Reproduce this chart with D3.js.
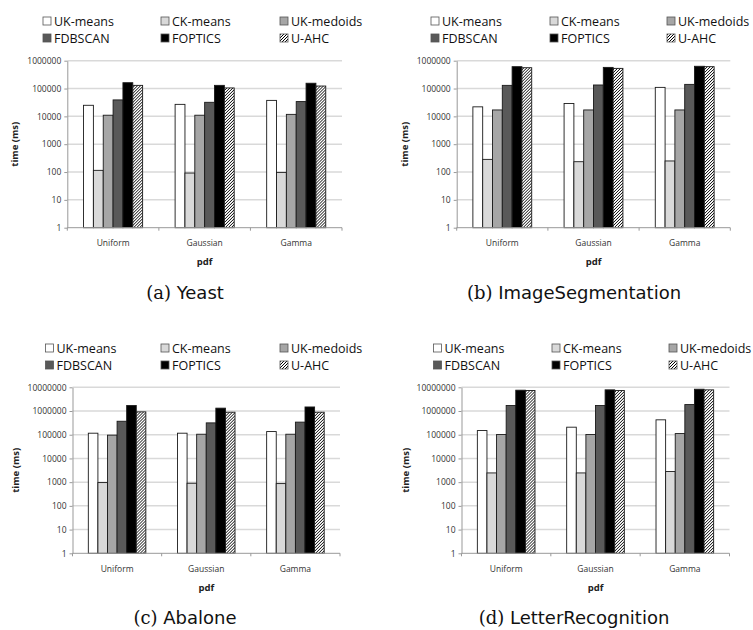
<!DOCTYPE html>
<html>
<head>
<meta charset="utf-8">
<script src="https://cdn.jsdelivr.net/npm/d3@7"></script>
<style>
  body { margin: 0; background: #fff; }
  svg { display: block; }
</style>
</head>
<body>
<svg id="fig" width="753" height="630"></svg>
<script>
// categories and series
var pdfs = ["Uniform", "Gaussian", "Gamma"];
var methods = ["UK-means", "CK-means", "UK-medoids", "FDBSCAN", "FOPTICS", "U-AHC"];

// time (ms), one row per method, one column per pdf
var yeastTimes = [
  [25000, 27000, 37500],
  [115, 92, 97],
  [11000, 11000, 11800],
  [39000, 32000, 34000],
  [162000, 130000, 155000],
  [130000, 105000, 123000]
];
var imageSegTimes = [
  [22000, 29000, 110000],
  [285, 235, 250],
  [17000, 17000, 17000],
  [130000, 134000, 141000],
  [610000, 575000, 630000],
  [560000, 530000, 610000]
];
var abaloneTimes = [
  [116000, 116000, 136000],
  [960, 900, 870],
  [96000, 105000, 105000],
  [370000, 316000, 340000],
  [1700000, 1320000, 1480000],
  [920000, 890000, 890000]
];
var letterTimes = [
  [150000, 208000, 425000],
  [2450, 2450, 2800],
  [102000, 102000, 112000],
  [1700000, 1700000, 1870000],
  [7550000, 7800000, 8300000],
  [7300000, 7300000, 7800000]
];

var ticks6 = [1, 10, 100, 1000, 10000, 100000, 1000000];
var ticks7 = [1, 10, 100, 1000, 10000, 100000, 1000000, 10000000];

var captions = [["(a)", "Yeast"], ["(b)", "ImageSegmentation"], ["(c)", "Abalone"], ["(d)", "LetterRecognition"]];

var svg = d3.select("#fig");

// hatch for U-AHC
var defs = svg.append("defs");
var pat = defs.append("pattern")
    .attr("id", "hatch")
    .attr("patternUnits", "userSpaceOnUse")
    .attr("width", 3)
    .attr("height", 3);
pat.append("rect").attr("width", 3).attr("height", 3).attr("fill", "#fff");
pat.append("path")
    .attr("d", "M-1,1 l2,-2 M0,3 l3,-3 M2,4 l2,-2")
    .attr("stroke", "#000")
    .attr("stroke-width", 1);

var fills = ["#ffffff", "#d9d9d9", "#a6a6a6", "#595959", "#000000", "url(#hatch)"];

var panels = [
  {data: yeastTimes, ticks: ticks6, left: 67.3, right: 342, top: 60.7, bottom: 227.7,
   legX: [43, 161, 280], legY: [21, 38], titleX: 15, catY: 243, pdfY: 262, capX: 185, capY: 299},
  {data: imageSegTimes, ticks: ticks6, left: 456.7, right: 730.3, top: 60.7, bottom: 227.7,
   legX: [431, 550, 667], legY: [21, 38], titleX: 405, catY: 243, pdfY: 262, capX: 574, capY: 299},
  {data: abaloneTimes, ticks: ticks7, left: 72.5, right: 340, top: 387.3, bottom: 553.3,
   legX: [45.5, 161, 280], legY: [348, 365], titleX: 16, catY: 569, pdfY: 588, capX: 185, capY: 624},
  {data: letterTimes, ticks: ticks7, left: 461.5, right: 729.5, top: 387.3, bottom: 553.3,
   legX: [433.5, 552, 669], legY: [348, 365], titleX: 406, catY: 569, pdfY: 588, capX: 574, capY: 624}
];

panels.forEach(function(p, i) { drawPanel(p, captions[i]); });

function drawPanel(p, cap) {
  var g = svg.append("g");

  var x0 = d3.scaleBand().domain(pdfs).range([p.left, p.right]).padding(0);
  var x1 = d3.scaleBand().domain(methods).range([0, x0.bandwidth()])
      .paddingInner(0).paddingOuter(1.65);
  var y = d3.scaleLog().domain([1, p.ticks[p.ticks.length - 1]]).range([p.bottom, p.top]);

  // gridlines
  g.append("g").selectAll("line")
    .data(p.ticks.slice(1))
    .enter().append("line")
      .attr("x1", p.left).attr("x2", p.right)
      .attr("y1", function(d) { return y(d); })
      .attr("y2", function(d) { return y(d); })
      .attr("stroke", "#d9d9d9")
      .attr("stroke-width", 1.5);

  // y axis
  var yAxis = d3.axisLeft(y).tickValues(p.ticks).tickFormat(d3.format("d"))
      .tickSize(3).tickSizeOuter(0).tickPadding(3);
  var ya = g.append("g")
      .attr("transform", "translate(" + p.left + ",0)")
      .call(yAxis);
  ya.select(".domain").attr("stroke", "#999");
  ya.selectAll(".tick line").attr("stroke", "#999");
  ya.selectAll("text")
      .attr("font-family", "Open Sans")
      .attr("font-size", 8.5)
      .attr("fill", "#333");

  // bars
  var groups = g.append("g").selectAll("g")
    .data(pdfs)
    .enter().append("g")
      .attr("transform", function(d) { return "translate(" + x0(d) + ",0)"; });
  groups.selectAll("rect")
    .data(function(pdf, j) {
      return methods.map(function(m, k) { return {m: m, k: k, v: p.data[k][j]}; });
    })
    .enter().append("rect")
      .attr("x", function(d) { return x1(d.m); })
      .attr("y", function(d) { return y(d.v); })
      .attr("width", x1.bandwidth())
      .attr("height", function(d) { return p.bottom - y(d.v); })
      .attr("fill", function(d) { return fills[d.k]; })
      .attr("stroke", "#1a1a1a")
      .attr("stroke-width", 0.9);

  // x axis
  var xa = g.append("g").attr("transform", "translate(0," + p.bottom + ")");
  xa.append("line")
      .attr("x1", p.left).attr("x2", p.right)
      .attr("stroke", "#999");
  var edges = pdfs.map(function(d) { return x0(d); }).concat([p.right]);
  xa.selectAll(".edge")
    .data(edges)
    .enter().append("line")
      .attr("class", "edge")
      .attr("x1", function(d) { return d; }).attr("x2", function(d) { return d; })
      .attr("y1", 0).attr("y2", 3)
      .attr("stroke", "#999");
  xa.selectAll("text")
    .data(pdfs)
    .enter().append("text")
      .attr("x", function(d) { return x0(d) + x0.bandwidth() / 2; })
      .attr("y", p.catY - p.bottom + 3)
      .attr("text-anchor", "middle")
      .attr("font-family", "Open Sans")
      .attr("font-size", 8.5)
      .attr("fill", "#333")
      .text(function(d) { return d; });

  // axis titles
  g.append("text")
      .attr("x", (p.left + p.right) / 2)
      .attr("y", p.pdfY + 3)
      .attr("text-anchor", "middle")
      .attr("font-family", "Open Sans")
      .attr("font-weight", "bold")
      .attr("font-size", 9.5)
      .attr("fill", "#222")
      .text("pdf");
  g.append("text")
      .attr("transform", "translate(" + (p.titleX + 3) + "," + ((p.top + p.bottom) / 2) + ") rotate(-90)")
      .attr("text-anchor", "middle")
      .attr("font-family", "Open Sans")
      .attr("font-weight", "bold")
      .attr("font-size", 9.5)
      .attr("fill", "#222")
      .text("time (ms)");

  // legend
  var leg = g.append("g").selectAll("g")
    .data(methods)
    .enter().append("g")
      .attr("transform", function(d, k) {
        return "translate(" + p.legX[k % 3] + "," + p.legY[Math.floor(k / 3)] + ")";
      });
  leg.append("rect")
      .attr("x", 0).attr("y", -4)
      .attr("width", 8).attr("height", 8)
      .attr("fill", function(d, k) { return fills[k]; })
      .attr("stroke", "#555")
      .attr("stroke-width", 0.8);
  leg.append("text")
      .attr("x", 11)
      .attr("y", 4.5)
      .attr("font-family", "Open Sans")
      .attr("font-size", 12.5)
      .attr("fill", "#111")
      .text(function(d) { return d; });

  // caption
  var c = g.append("text")
      .attr("x", p.capX)
      .attr("y", p.capY)
      .attr("text-anchor", "middle")
      .attr("font-size", 18)
      .attr("fill", "#111");
  c.append("tspan").attr("font-family", "DejaVu Serif").text(cap[0] + " ");
  c.append("tspan").attr("font-family", "DejaVu Sans").text(cap[1]);
}
</script>
</body>
</html>
